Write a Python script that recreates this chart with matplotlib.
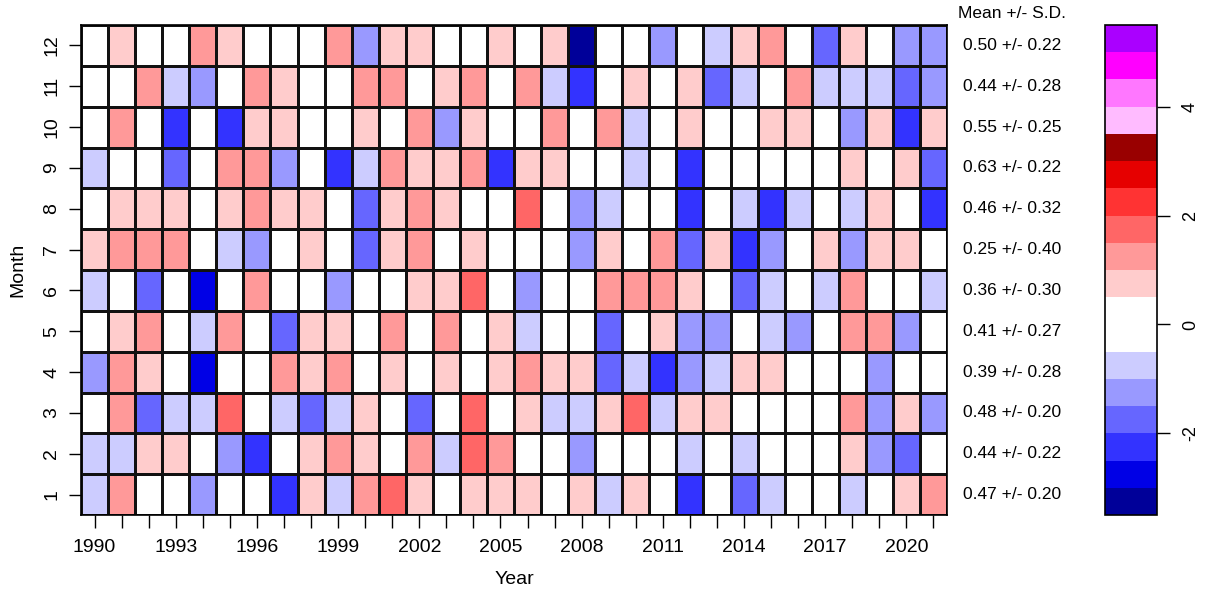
import numpy as np
import matplotlib.pyplot as plt
from matplotlib.colors import ListedColormap, BoundaryNorm
from matplotlib.transforms import blended_transform_factory

plt.rcParams['font.family'] = ['Liberation Sans', 'DejaVu Sans']

years = np.arange(1990, 2022)
months = np.arange(1, 13)

m1 = [-.75, 1.25, 0, 0, -1.25, 0, 0, -2.25, .75, -.75, 1.25, 1.75, .75, 0, .75, .75,
      .75, 0, .75, -.75, .75, 0, -2.25, 0, -1.75, -.75, 0, 0, -.75, 0, .75, 1.25]
m2 = [-.75, -.75, .75, .75, 0, -1.25, -2.25, 0, .75, 1.25, .75, 0, 1.25, -.75, 1.75, 1.25,
      0, 0, -1.25, 0, 0, 0, -.75, 0, -.75, 0, 0, 0, .75, -1.25, -1.75, 0]
m3 = [0, 1.25, -1.75, -.75, -.75, 1.75, 0, -.75, -1.75, -.75, .75, 0, -1.75, 0, 1.75, 0,
      .75, -.75, -.75, .75, 1.75, -.75, .75, .75, 0, 0, 0, 0, 1.25, -1.25, .75, -1.25]
m4 = [-1.25, 1.25, .75, 0, -2.75, 0, 0, 1.25, .75, 1.25, 0, .75, 0, .75, 0, .75,
      1.25, .75, .75, -1.75, -.75, -2.25, -1.25, -.75, .75, .75, 0, 0, 0, -1.25, 0, 0]
m5 = [0, .75, 1.25, 0, -.75, 1.25, 0, -1.75, .75, .75, 0, 1.25, 0, 1.25, 0, .75,
      -.75, 0, 0, -1.75, 0, .75, -1.25, -1.25, 0, -.75, -1.25, 0, 1.25, 1.25, -1.25, 0]
m6 = [-.75, 0, -1.75, 0, -2.75, 0, 1.25, 0, 0, -1.25, 0, 0, .75, .75, 1.75, 0,
      -1.25, 0, 0, 1.25, 1.25, 1.25, .75, 0, -1.75, -.75, 0, -.75, 1.25, 0, 0, -.75]
m7 = [.75, 1.25, 1.25, 1.25, 0, -.75, -1.25, 0, .75, 0, -1.75, .75, 1.25, 0, .75, 0,
      0, 0, -1.25, .75, 0, 1.25, -1.75, .75, -2.25, -1.25, 0, .75, -1.25, .75, .75, 0]
m8 = [0, .75, .75, .75, 0, .75, 1.25, .75, .75, 0, -1.75, .75, 1.25, .75, 0, 0,
      1.75, 0, -1.25, -.75, 0, 0, -2.25, 0, -.75, -2.25, -.75, 0, -.75, .75, 0, -2.25]
m9 = [-.75, 0, 0, -1.75, 0, 1.25, 1.25, -1.25, 0, -2.25, -.75, 1.25, .75, .75, 1.25, -2.25,
      .75, .75, 0, 0, -.75, 0, -2.25, 0, 0, 0, 0, 0, .75, 0, .75, -1.75]
m10 = [0, 1.25, 0, -2.25, 0, -2.25, .75, .75, 0, 0, .75, 0, 1.25, -1.25, .75, 0,
       0, 1.25, 0, 1.25, -.75, 0, .75, 0, 0, .75, .75, 0, -1.25, .75, -2.25, .75]
m11 = [0, 0, 1.25, -.75, -1.25, 0, 1.25, .75, 0, 0, 1.25, 1.25, 0, .75, 1.25, 0,
       1.25, -.75, -2.25, 0, .75, 0, .75, -1.75, -.75, 0, 1.25, -.75, -.75, -.75, -1.75, -1.25]
m12 = [0, .75, 0, 0, 1.25, .75, 0, 0, 0, 1.25, -1.25, .75, .75, 0, 0, .75,
       0, .75, -3.25, 0, 0, -1.25, 0, -.75, .75, 1.25, 0, -1.75, .75, 0, -1.25, -1.25]

mean_sd = ['0.47 +/- 0.20', '0.44 +/- 0.22', '0.48 +/- 0.20', '0.39 +/- 0.28',
           '0.41 +/- 0.27', '0.36 +/- 0.30', '0.25 +/- 0.40', '0.46 +/- 0.32',
           '0.63 +/- 0.22', '0.55 +/- 0.25', '0.44 +/- 0.28', '0.50 +/- 0.22']

levels = [-3.5, -3, -2.5, -2, -1.5, -1, -0.5, 0.5, 1, 1.5, 2, 2.5, 3, 3.5, 4, 4.5, 5, 5.5]
colors = ['#000099', '#0000E6', '#3333FF', '#6666FF', '#9999FF', '#CCCCFF', '#FFFFFF',
          '#FFCCCC', '#FF9999', '#FF6666', '#FF3333', '#E60000', '#990000',
          '#FFBBFF', '#FF77FF', '#FF00FF', '#AA00FF']

Z = np.array([m1, m2, m3, m4, m5, m6, m7, m8, m9, m10, m11, m12])
cmap = ListedColormap(colors)
norm = BoundaryNorm(levels, cmap.N)

fig = plt.figure(figsize=(12.09, 6), dpi=100)
ax = fig.add_axes([81 / 1209, 85 / 600, 866 / 1209, 490 / 600])

xe = np.append(years - 0.5, years[-1] + 0.5)
ye = np.append(months - 0.5, months[-1] + 0.5)
ax.pcolormesh(xe, ye, Z, cmap=cmap, norm=norm, edgecolors='#111111', linewidth=0.8)
ax.set_xlim(xe[0], xe[-1])
ax.set_ylim(ye[0], ye[-1])

ax.set_xticks(years)
ax.set_xticklabels([str(y) if (y - 1990) % 3 == 0 else '' for y in years], fontsize=14)
ax.set_yticks(months)
ax.set_yticklabels([str(m) for m in months], fontsize=14, rotation=90, va='center')
ax.tick_params(axis='x', length=9, width=1, pad=8)
ax.tick_params(axis='y', length=9, width=1, pad=6)
for s in ax.spines.values():
    s.set_linewidth(1.2)

fig.text(18 / 1209, 1 - 270 / 600, 'Month', rotation=90, ha='center', va='center', fontsize=14)
fig.text(514 / 1209, 1 - 580 / 600, 'Year', ha='center', va='center', fontsize=14)

fig.text(958 / 1209, 1 - 13 / 600, 'Mean +/- S.D.', ha='left', va='center', fontsize=12.5)
tr = blended_transform_factory(fig.transFigure, ax.transData)
for m, txt in zip(months, mean_sd):
    ax.text(963 / 1209, m, txt, transform=tr, ha='left', va='center', fontsize=12.5)

cax = fig.add_axes([1105 / 1209, 85 / 600, 52 / 1209, 490 / 600])
cb = fig.colorbar(plt.cm.ScalarMappable(norm=norm, cmap=cmap), cax=cax,
                  spacing='proportional', ticks=[-2, 0, 2, 4])
cb.minorticks_off()
cb.outline.set_linewidth(1.2)
cax.tick_params(length=9, width=1, pad=9)
cax.set_yticklabels(['-2', '0', '2', '4'], rotation=90, va='center', fontsize=13)

fig.savefig('out.png', dpi=100)
